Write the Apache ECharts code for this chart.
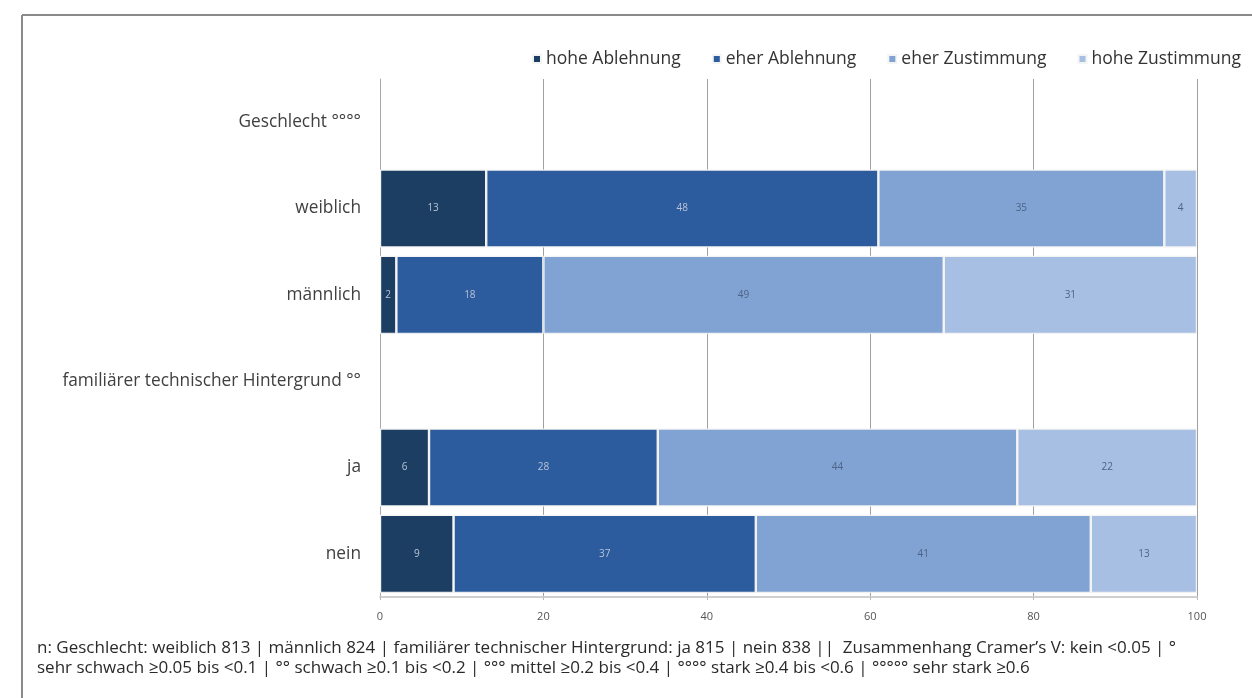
<!DOCTYPE html>
<html>
<head>
<meta charset="utf-8">
<script src="https://cdn.jsdelivr.net/npm/echarts@6/dist/echarts.min.js"></script>
<style>
html,body{margin:0;padding:0;background:#fff;}
#c{width:1252px;height:698px;}
</style>
</head>
<body>
<div id="c"></div>
<script>
const categories = ['Geschlecht °°°°', 'weiblich', 'männlich', 'familiärer technischer Hintergrund °°', 'ja', 'nein'];
const seriesNames = ['hohe Ablehnung', 'eher Ablehnung', 'eher Zustimmung', 'hohe Zustimmung'];
const hoheAblehnung = [null, 13, 2, null, 6, 9];
const eherAblehnung = [null, 48, 18, null, 28, 37];
const eherZustimmung = [null, 35, 49, null, 44, 41];
const hoheZustimmung = [null, 4, 31, null, 22, 13];
const xTicks = [0, 20, 40, 60, 80, 100];
const footnote = 'n: Geschlecht: weiblich 813 | männlich 824 | familiärer technischer Hintergrund: ja 815 | nein 838 ||  Zusammenhang Cramer\u2019s V: kein <0.05 | °\nsehr schwach \u22650.05 bis <0.1 | °° schwach \u22650.1 bis <0.2 | °°° mittel \u22650.2 bis <0.4 | °°°° stark \u22650.4 bis <0.6 | °°°°° sehr stark \u22650.6';

const colors = ['#1c3e62', '#2c5c9e', '#80a3d3', '#a7bfe3'];
const labelColors = ['#b9c4d6', '#b9c4d6', '#4d6388', '#4d6388'];
const allData = [hoheAblehnung, eherAblehnung, eherZustimmung, hoheZustimmung];

const chart = echarts.init(document.getElementById('c'), null, {renderer: 'canvas'});
const FONT = 'Open Sans';
chart.setOption({
  animation: false,
  textStyle: {fontFamily: FONT},
  color: colors,
  legend: {
    top: 45, right: 6,
    icon: 'rect', itemWidth: 8, itemHeight: 8, itemGap: 31,
    textStyle: {fontSize: 17.5, color: '#333', fontFamily: FONT},
    data: seriesNames
  },
  grid: {left: 380, right: 55, top: 79, bottom: 101, containLabel: false},
  xAxis: {
    type: 'value', min: xTicks[0], max: xTicks[xTicks.length-1], interval: 20,
    axisLine: {show: true, lineStyle: {color: '#cfcfcf', width: 2}},
    axisTick: {show: true, length: 3, lineStyle: {color: '#bbb'}},
    axisLabel: {fontSize: 11, color: '#555', margin: 14},
    splitLine: {show: true, lineStyle: {color: '#a0a0a0', width: 1}}
  },
  yAxis: {
    type: 'category', inverse: true, data: categories,
    axisLine: {show: true, lineStyle: {color: '#a8a8a8', width: 1}},
    axisTick: {show: false},
    axisLabel: {fontSize: 17.3, color: '#404040', margin: 19}
  },
  series: seriesNames.map((name, i) => ({
    name: name, type: 'bar', stack: 'all',
    data: allData[i],
    barWidth: 78,
    itemStyle: {color: colors[i], borderColor: '#f4f4f4', borderWidth: 1.2},
    label: {show: true, position: 'inside', fontSize: 10, color: labelColors[i], fontFamily: FONT}
  })),
  graphic: [
    {type: 'line', shape: {x1: 22, y1: 15, x2: 1252, y2: 15}, style: {stroke: '#8a8a8a', lineWidth: 2}},
    {type: 'line', shape: {x1: 22, y1: 15, x2: 22, y2: 698}, style: {stroke: '#8a8a8a', lineWidth: 2}},
    {type: 'text', left: 37, top: 638, style: {text: footnote, fontSize: 17, lineHeight: 20, fill: '#2a2a2a', fontFamily: FONT}}
  ]
});
</script>
</body>
</html>
